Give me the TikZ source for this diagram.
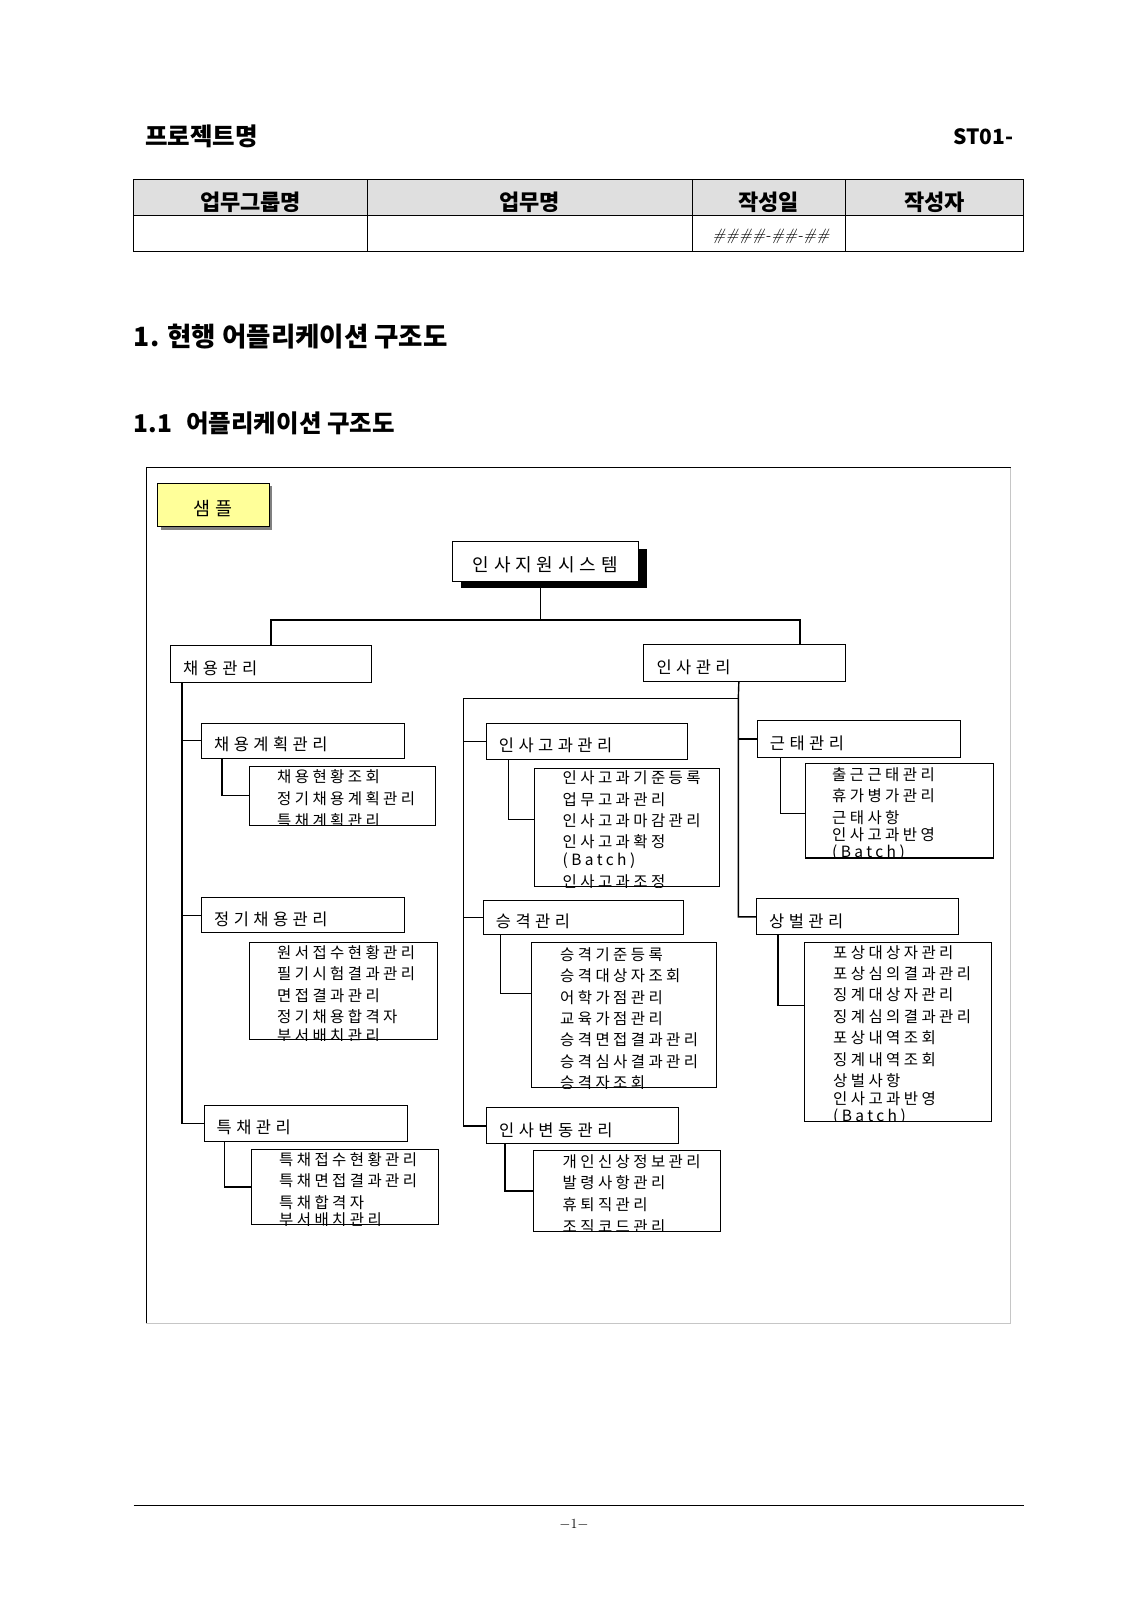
\documentclass[tikz,border=0pt]{standalone}
\usepackage{fontspec}
\usepackage{tikz}
\usetikzlibrary{shadows}
\setmainfont{Noto Sans CJK KR}
\newfontfamily\gulim{Noto Sans CJK KR}[LetterSpace=22]
\newfontfamily\gulimw{Noto Sans CJK KR}[LetterSpace=27]
\newfontfamily\lmserif{Latin Modern Roman}
\definecolor{memo}{HTML}{FFFF99}

\begin{document}
\begin{tikzpicture}[x=1pt, y=-1pt, every node/.style={inner sep=0pt},
    box/.style={draw, line width=1.1pt, fill=white, anchor=north west},
    lbl/.style={anchor=west, xshift=13pt, yshift=-4pt, font=\gulimw\fontsize{16.5}{18}\selectfont},
    item/.style={anchor=west, font=\gulim\fontsize{15.5}{17}\selectfont},
    conn/.style={line width=1.4pt},
    head/.style={font=\bfseries\fontsize{22}{26}\selectfont}]

    \fill[white] (0,0) rectangle (1132,1600);
    \useasboundingbox (0,0) rectangle (1132,1600);

    % page header
    \node[anchor=west, font=\bfseries\fontsize{24.5}{28}\selectfont] (proj) at (145,136.5) {프로젝트명};
    \node[anchor=east, font=\bfseries\fontsize{21}{25}\selectfont] (docid) at (1013.5,136.5) {ST01-};

    % form table
    \fill[gray!25] (133.7,179.6) rectangle (1023.8,215.4);
    \draw[line width=1pt] (133.7,179.6) rectangle (1023.8,251.1);
    \draw[line width=1pt] (133.7,215.4) -- (1023.8,215.4);
    \foreach \x in {367.5,692,845}
        \draw[line width=1pt] (\x,179.6) -- (\x,251.1);
    \node[head] (grp) at (250.6,202) {업무그룹명};
    \node[head] (task) at (529.8,202) {업무명};
    \node[head] (date) at (768.5,202) {작성일};
    \node[head] (writer) at (934.4,202) {작성자};
    \node[font=\lmserif\itshape\fontsize{16.5}{18}\selectfont] (dateval) at (771,236) {\#\#\#\#-\#\#-\#\#};

    % section titles
    \node[anchor=west, font=\bfseries\fontsize{26.5}{30}\selectfont] (sec1) at (133.7,337) {1. 현행 어플리케이션 구조도};
    \node[anchor=west, font=\bfseries\fontsize{24.5}{28}\selectfont] (sec11) at (133.7,423) {1.1\hspace{14pt}어플리케이션 구조도};

    % frame
    \draw[line width=0.8pt] (146,1323) -- (146,467.5) -- (1010.5,467.5);
    \draw[line width=0.8pt, gray!45] (1010.5,467.5) -- (1010.5,1323) -- (146,1323);

    \node[box, fill=memo, minimum width=111.5pt, minimum height=43.5pt,
        drop shadow={shadow xshift=3pt, shadow yshift=-3pt, fill=gray, opacity=1}] (sample) at (157,482.5) {};
    \node[font=\gulimw\fontsize{18.5}{20}\selectfont, yshift=-4pt] (sample-t) at (sample.center) {샘플};

    % top level
    \node[box, minimum width=186pt, minimum height=39.7pt,
        drop shadow={shadow xshift=9pt, shadow yshift=-7pt, fill=black, opacity=1}] (sys) at (451.7,541) {};
    \node[font=\gulimw\fontsize{18}{20}\selectfont, yshift=-3.5pt] (sys-t) at (sys.center) {인사지원시스템};

    \node[box, minimum width=201pt, minimum height=36.7pt] (hire) at (170,645) {};
    \node[lbl] (hire-t) at (hire.west) {채용관리};
    \node[box, minimum width=202pt, minimum height=36.7pt] (hr) at (643.3,644) {};
    \node[lbl] (hr-t) at (hr.west) {인사관리};

    % second level
    \node[box, minimum width=202.7pt, minimum height=35pt] (plan) at (201,722.7) {};
    \node[lbl] (plan-t) at (plan.west) {채용계획관리};
    \node[box, minimum width=202.7pt, minimum height=35pt] (reg) at (201,897.3) {};
    \node[lbl] (reg-t) at (reg.west) {정기채용관리};
    \node[box, minimum width=203pt, minimum height=36pt] (spec) at (203.5,1105) {};
    \node[lbl] (spec-t) at (spec.west) {특채관리};

    \node[box, minimum width=201.6pt, minimum height=36.3pt] (eval) at (485.7,722.7) {};
    \node[lbl] (eval-t) at (eval.west) {인사고과관리};
    \node[box, minimum width=200pt, minimum height=34.3pt] (promo) at (482.7,900) {};
    \node[lbl] (promo-t) at (promo.west) {승격관리};
    \node[box, minimum width=191.5pt, minimum height=36pt] (move) at (486,1107.3) {};
    \node[lbl] (move-t) at (move.west) {인사변동관리};

    \node[box, minimum width=203.3pt, minimum height=36.7pt] (att) at (756.7,720) {};
    \node[lbl] (att-t) at (att.west) {근태관리};
    \node[box, minimum width=202.3pt, minimum height=36pt] (rew) at (756,898.3) {};
    \node[lbl] (rew-t) at (rew.west) {상벌관리};

    % function lists
    \node[box, minimum width=185.7pt, minimum height=59.2pt] (plan-list) at (249.3,765.5) {};
    \node[box, minimum width=187.4pt, minimum height=97.3pt] (reg-list) at (249.3,941.7) {};
    \node[box, minimum width=187pt, minimum height=75.5pt] (spec-list) at (251,1148.5) {};
    \node[box, minimum width=185.3pt, minimum height=118.3pt] (eval-list) at (534,767.7) {};
    \node[box, minimum width=185pt, minimum height=145pt] (promo-list) at (531,942.3) {};
    \node[box, minimum width=187pt, minimum height=80.7pt] (move-list) at (533,1150) {};
    \node[box, minimum width=187.7pt, minimum height=94.7pt] (att-list) at (805,762.7) {};
    \node[box, minimum width=186.4pt, minimum height=179pt] (rew-list) at (804.3,941.7) {};

    \begin{scope}
        \clip (plan-list.north west) rectangle (plan-list.south east);
        \foreach \t/\y [count=\i] in {채용현황조회/777, 정기채용계획관리/798.5, 특채계획관리/820.5}
            \node[item] (plan-i\i) at (277,\y) {\t};
    \end{scope}
    \begin{scope}
        \clip (reg-list.north west) rectangle (reg-list.south east);
        \foreach \t/\y [count=\i] in {원서접수현황관리/952.5, 필기시험결과관리/974, 면접결과관리/995.5,
                                        정기채용합격자/1017, 부서배치관리/1035.5}
            \node[item] (reg-i\i) at (277,\y) {\t};
    \end{scope}
    \begin{scope}
        \clip (spec-list.north west) rectangle (spec-list.south east);
        \foreach \t/\y [count=\i] in {특채접수현황관리/1159.5, 특채면접결과관리/1181, 특채합격자/1202.5, 부서배치관리/1220}
            \node[item] (spec-i\i) at (279,\y) {\t};
    \end{scope}
    \begin{scope}
        \clip (eval-list.north west) rectangle (eval-list.south east);
        \foreach \t/\y [count=\i] in {인사고과기준등록/778, 업무고과관리/799.5, 인사고과마감관리/821,
                                        인사고과확정/842, (Batch)/860.5, 인사고과조정/882}
            \node[item] (eval-i\i) at (562.5,\y) {\t};
    \end{scope}
    \begin{scope}
        \clip (promo-list.north west) rectangle (promo-list.south east);
        \foreach \t/\y [count=\i] in {승격기준등록/954.5, 승격대상자조회/976, 어학가점관리/997.5, 교육가점관리/1018.5,
                                        승격면접결과관리/1040, 승격심사결과관리/1061.5, 승격자조회/1083}
            \node[item] (promo-i\i) at (560,\y) {\t};
    \end{scope}
    \begin{scope}
        \clip (move-list.north west) rectangle (move-list.south east);
        \foreach \t/\y [count=\i] in {개인신상정보관리/1161.5, 발령사항관리/1183, 휴퇴직관리/1204.5, 조직코드관리/1226.5}
            \node[item] (move-i\i) at (562.5,\y) {\t};
    \end{scope}
    \begin{scope}
        \clip (att-list.north west) rectangle (att-list.south east);
        \foreach \t/\y [count=\i] in {출근근태관리/775, 휴가병가관리/796, 근태사항/817.5, 인사고과반영/835, (Batch)/853}
            \node[item] (att-i\i) at (832,\y) {\t};
    \end{scope}
    \begin{scope}
        \clip (rew-list.north west) rectangle (rew-list.south east);
        \foreach \t/\y [count=\i] in {포상대상자관리/952.5, 포상심의결과관리/974, 징계대상자관리/995, 징계심의결과관리/1016.5,
                                        포상내역조회/1038, 징계내역조회/1059.5, 상벌사항/1081, 인사고과반영/1098.5, (Batch)/1116.5}
            \node[item] (rew-i\i) at (833,\y) {\t};
    \end{scope}

    % connectors
    \draw[conn] ([xshift=-5pt]sys.south) -- ++(0,38) coordinate (bus);
    \draw[conn] (hire.north) |- (bus) -| ([xshift=55pt]hr.north);

    \draw[conn] ([xshift=12pt]hire.south west) coordinate (ltop) |- (spec.west);
    \draw[conn] (ltop |- plan.west) -- (plan.west);
    \draw[conn] (ltop |- reg.west) -- (reg.west);

    \coordinate (rtop) at (738.3,698.7);
    \coordinate (mtop) at (463.3,698.7);
    \draw[conn] ([xshift=-6pt]hr.south) -- (rtop) |- (rew.west);
    \draw[conn] (rtop) -- (mtop) |- (move.west);
    \draw[conn] (mtop |- eval.west) -- (eval.west);
    \draw[conn] (mtop |- promo.west) -- (promo.west);
    \draw[conn] (rtop |- att.west) -- (att.west);

    \draw[conn] ([xshift=21pt]plan.south west) |- (plan-list.west);
    \draw[conn] ([xshift=21pt]spec.south west) |- (spec-list.west);
    \draw[conn] ([xshift=23pt]eval.south west) |- ([yshift=8pt]eval-list.west);
    \draw[conn] ([xshift=18pt]promo.south west) |- ([yshift=22pt]promo-list.west);
    \draw[conn] ([xshift=19pt]move.south west) |- (move-list.west);
    \draw[conn] ([xshift=24pt]att.south west) |- ([yshift=-3pt]att-list.west);
    \draw[conn] ([xshift=22pt]rew.south west) |- ([yshift=26pt]rew-list.west);

    % page footer
    \draw[line width=1pt] (133.7,1505.6) -- (1023.8,1505.6);
    \node[font=\lmserif\fontsize{14}{16}\selectfont] (pageno) at (574,1524) {$-$1$-$};

\end{tikzpicture}
\end{document}
